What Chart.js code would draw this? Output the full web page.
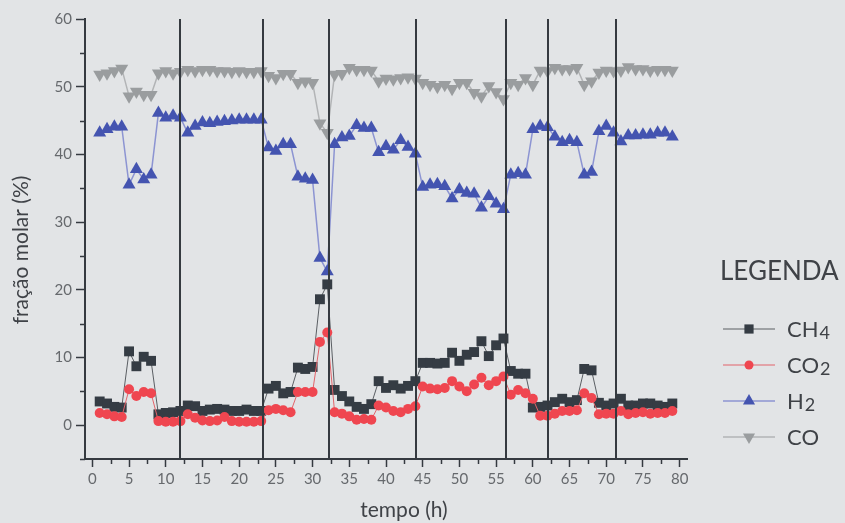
<!DOCTYPE html>
<html>
<head>
    <title>Fração molar vs tempo</title>
    <meta charset="UTF-8">
    <script src="https://cdn.jsdelivr.net/npm/chart.js@4.4.1/dist/chart.umd.min.js"></script>
    <style>
        body { margin: 0; background: #e2e4e6; }
        #wrap { width: 845px; height: 523px; position: relative; }
    </style>
</head>
<body>
<div id="wrap"><canvas id="myChart"></canvas></div>
<script>
    const hours = [1, 2, 3, 4, 5, 6, 7, 8, 9, 10, 11, 12, 13, 14, 15, 16, 17, 18, 19, 20,
        21, 22, 23, 24, 25, 26, 27, 28, 29, 30, 31, 32, 33, 34, 35, 36, 37, 38, 39, 40,
        41, 42, 43, 44, 45, 46, 47, 48, 49, 50, 51, 52, 53, 54, 55, 56, 57, 58, 59, 60,
        61, 62, 63, 64, 65, 66, 67, 68, 69, 70, 71, 72, 73, 74, 75, 76, 77, 78, 79];
    const ch4 = [3.5, 3.2, 2.7, 2.6, 10.9, 8.7, 10.1, 9.5, 1.6, 1.8, 1.9, 2.1, 2.9, 2.8, 2.1, 2.3, 2.4, 2.3, 2.1, 2.1,
        2.3, 2.1, 2.1, 5.4, 5.8, 4.7, 4.9, 8.5, 8.3, 8.6, 18.6, 20.8, 5.2, 4.3, 3.5, 2.7, 2.4, 3.1, 6.5, 5.5,
        5.9, 5.4, 5.8, 6.5, 9.2, 9.2, 9.1, 9.2, 10.7, 9.5, 10.4, 10.8, 12.4, 10.2, 11.8, 12.8, 8.0, 7.6, 7.6, 2.6,
        2.7, 2.9, 3.4, 3.9, 3.4, 3.7, 8.3, 8.1, 3.3, 2.9, 3.2, 3.9, 2.9, 2.9, 3.2, 3.2, 2.9, 2.7, 3.2];
    const co2 = [1.8, 1.6, 1.3, 1.2, 5.3, 4.3, 4.9, 4.7, 0.6, 0.5, 0.5, 0.6, 1.6, 1.1, 0.7, 0.6, 0.7, 1.2, 0.6, 0.5,
        0.5, 0.5, 0.6, 2.2, 2.4, 2.2, 1.9, 4.9, 4.9, 4.9, 12.3, 13.7, 1.9, 1.7, 1.3, 0.8, 0.9, 0.8, 2.9, 2.6,
        2.1, 1.9, 2.4, 2.8, 5.7, 5.4, 5.3, 5.5, 6.5, 5.7, 5.0, 6.0, 7.0, 5.9, 6.5, 7.2, 4.5, 5.2, 4.7, 3.9,
        1.4, 1.4, 1.7, 2.1, 2.1, 2.2, 4.7, 4.0, 1.6, 1.7, 1.7, 2.1, 1.6, 1.8, 1.9, 1.7, 1.8, 1.8, 2.1];
    const h2 = [43.2, 43.7, 44.1, 44.1, 35.5, 37.8, 36.3, 37.0, 46.1, 45.4, 45.7, 45.4, 43.2, 44.2, 44.7, 44.6, 44.8, 44.9, 45.0, 45.1,
        45.1, 45.1, 45.1, 41.0, 40.5, 41.5, 41.5, 36.7, 36.4, 36.2, 24.7, 22.7, 41.5, 42.5, 42.7, 44.3, 43.9, 43.9, 40.3, 41.2,
        40.7, 42.1, 41.1, 40.1, 35.2, 35.5, 35.6, 35.3, 33.5, 34.8, 34.3, 34.2, 32.1, 33.8, 32.7, 31.9, 37.0, 37.2, 37.0, 43.7,
        44.2, 44.0, 42.6, 41.8, 42.1, 41.8, 37.0, 37.4, 43.4, 44.2, 43.2, 41.9, 42.8, 42.8, 42.9, 42.9, 43.2, 43.2, 42.6];
    const co = [51.8, 52.0, 52.3, 52.7, 48.6, 49.3, 48.8, 48.8, 52.0, 52.3, 52.0, 52.2, 52.5, 52.3, 52.5, 52.5, 52.3, 52.3, 52.2, 52.3,
        52.2, 52.2, 52.3, 51.6, 51.3, 51.9, 51.9, 50.6, 50.8, 50.6, 44.6, 43.2, 51.8, 51.9, 52.8, 52.5, 52.5, 52.4, 50.8, 51.2,
        51.1, 51.3, 51.4, 51.2, 50.6, 50.3, 50.0, 50.3, 49.7, 50.6, 50.6, 49.1, 48.6, 50.1, 49.2, 48.2, 50.6, 50.3, 51.3, 50.3,
        52.4, 52.3, 52.8, 52.6, 52.6, 52.8, 50.3, 50.8, 52.1, 52.4, 52.3, 52.4, 52.9, 52.6, 52.6, 52.4, 52.5, 52.5, 52.4];
    // vertical lines marking changes of condition (hours)
    const phaseBreaks = [12, 23.3, 32.2, 44.1, 56.4, 62, 71.3];
    const xTicks = [0, 5, 10, 15, 20, 25, 30, 35, 40, 45, 50, 55, 60, 65, 70, 75, 80];
    const xMinor = [2.5, 7.5, 12.5, 17.5, 22.5, 27.5, 32.5, 37.5, 42.5, 47.5, 52.5, 57.5, 62.5, 67.5, 72.5, 77.5];
    const yTicks = [0, 10, 20, 30, 40, 50, 60];
    const yMinor = [-5, 5, 15, 25, 35, 45, 55];

    const axisColor = '#353a40';
    const textColor = '#3f4247';
    const fontFamily = 'Lato, "Open Sans", sans-serif';

    function points(values) {
        return hours.map((h, i) => ({x: h, y: values[i]}));
    }

    const extras = {
        id: 'extras',
        afterDatasetsDraw(chart) {
            const c = chart.ctx;
            const xs = chart.scales.x, ys = chart.scales.y;
            const area = chart.chartArea;
            c.save();
            // phase lines
            c.strokeStyle = axisColor;
            c.lineWidth = 2;
            phaseBreaks.forEach(v => {
                const px = Math.round(xs.getPixelForValue(v));
                c.beginPath();
                c.moveTo(px, ys.getPixelForValue(60));
                c.lineTo(px, area.bottom);
                c.stroke();
            });
            // minor ticks
            c.lineWidth = 1.5;
            xMinor.forEach(v => {
                const px = Math.round(xs.getPixelForValue(v)) + 0.5;
                c.beginPath();
                c.moveTo(px, area.bottom);
                c.lineTo(px, area.bottom + 5);
                c.stroke();
            });
            yMinor.forEach(v => {
                const py = Math.round(ys.getPixelForValue(v)) + 0.5;
                c.beginPath();
                c.moveTo(area.left, py);
                c.lineTo(area.left - 5, py);
                c.stroke();
            });
            c.restore();
        },
        afterDraw(chart) {
            const c = chart.ctx;
            c.save();
            // axis titles
            c.fillStyle = textColor;
            c.font = '21px ' + fontFamily;
            c.textAlign = 'center';
            c.textBaseline = 'middle';
            c.fillText('tempo (h)', 404, 510);
            c.translate(21, 250);
            c.rotate(-Math.PI / 2);
            c.fillText('fração molar (%)', 0, 0);
            c.setTransform(1, 0, 0, 1, 0, 0);
            // legend
            c.textAlign = 'left';
            c.textBaseline = 'alphabetic';
            c.font = '26px ' + fontFamily;
            c.fillText('LEGENDA', 720, 280);
            const rows = [329, 365, 401, 437];
            const names = [['CH', '4'], ['CO', '2'], ['H', '2'], ['CO', '']];
            rows.forEach((y, k) => {
                const ds = chart.data.datasets[k];
                c.strokeStyle = ds.borderColor;
                c.lineWidth = ds.borderWidth;
                c.beginPath();
                c.moveTo(723, y);
                c.lineTo(775, y);
                c.stroke();
                c.fillStyle = ds.pointBackgroundColor;
                Chart.helpers.drawPoint(c, {
                    pointStyle: ds.pointStyle,
                    rotation: ds.pointRotation || 0,
                    radius: ds.pointRadius - 0.5,
                    borderWidth: 0
                }, 749, y);
                c.fillStyle = textColor;
                c.font = '22px ' + fontFamily;
                const base = y + 8;
                c.fillText(names[k][0], 787, base);
                const w = c.measureText(names[k][0]).width;
                c.font = '18px ' + fontFamily;
                c.fillText(names[k][1], 787 + w + 1, base + 2);
            });
            c.restore();
        }
    };

    const ctx = document.getElementById('myChart').getContext('2d');
    const myChart = new Chart(ctx, {
        type: 'line',
        data: {
            datasets: [
                {
                    label: 'CH4',
                    data: points(ch4),
                    borderColor: '#5a5e63',
                    borderWidth: 1,
                    pointStyle: 'rect',
                    pointRadius: 7,
                    pointBackgroundColor: '#353c44',
                    pointBorderWidth: 0,
                    order: 3
                },
                {
                    label: 'CO2',
                    data: points(co2),
                    borderColor: '#e2636a',
                    borderWidth: 1,
                    pointStyle: 'circle',
                    pointRadius: 5,
                    pointBackgroundColor: '#ef4650',
                    pointBorderWidth: 0,
                    order: 2
                },
                {
                    label: 'H2',
                    data: points(h2),
                    borderColor: '#8c94d2',
                    borderWidth: 1.5,
                    pointStyle: 'triangle',
                    pointRadius: 7.5,
                    pointBackgroundColor: '#4454b0',
                    pointBorderWidth: 0,
                    order: 1
                },
                {
                    label: 'CO',
                    data: points(co),
                    borderColor: '#b2b4b6',
                    borderWidth: 1.5,
                    pointStyle: 'triangle',
                    pointRotation: 180,
                    pointRadius: 7.5,
                    pointBackgroundColor: '#9a9d9f',
                    pointBorderWidth: 0,
                    order: 4
                }
            ]
        },
        options: {
            responsive: true,
            maintainAspectRatio: false,
            animation: false,
            layout: {padding: {top: 19, right: 158, left: 0, bottom: 0}},
            plugins: {
                legend: {display: false},
                tooltip: {enabled: false}
            },
            scales: {
                x: {
                    type: 'linear',
                    min: -1,
                    max: 81,
                    afterBuildTicks: s => { s.ticks = xTicks.map(v => ({value: v})); },
                    afterFit: s => { s.height = 64; },
                    grid: {drawOnChartArea: false, drawTicks: true, tickLength: 8, tickColor: axisColor, tickWidth: 1.5},
                    border: {color: axisColor, width: 2},
                    ticks: {color: '#66696d', font: {family: fontFamily, size: 15}, padding: 3, maxRotation: 0}
                },
                y: {
                    min: -5,
                    max: 60,
                    afterBuildTicks: s => { s.ticks = yTicks.map(v => ({value: v})); },
                    afterFit: s => { s.width = 85; },
                    grid: {drawOnChartArea: false, drawTicks: true, tickLength: 9, tickColor: axisColor, tickWidth: 1.5},
                    border: {color: axisColor, width: 2},
                    ticks: {color: '#66696d', font: {family: fontFamily, size: 15}, padding: 4}
                }
            }
        },
        plugins: [extras]
    });
</script>
</body>
</html>
